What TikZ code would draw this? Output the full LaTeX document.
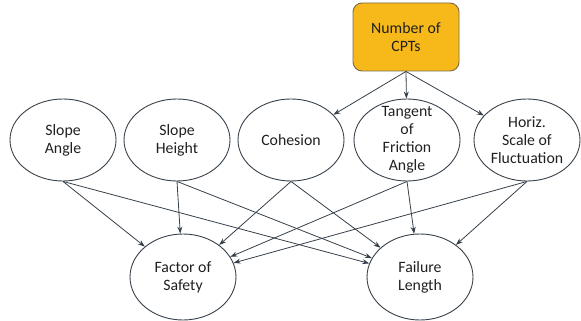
\documentclass[tikz,border=0pt]{standalone}
\usepackage{fontspec}
\setmainfont{Carlito}
\usetikzlibrary{shapes.geometric,arrows.meta}
\definecolor{boxfill}{HTML}{F7B81A}
\definecolor{boxline}{HTML}{7E6B45}
\definecolor{edgecol}{HTML}{36404A}
\definecolor{txt}{HTML}{202020}
\tikzset{
  var/.style={draw=edgecol, line width=0.9pt, ellipse, inner xsep=0pt, inner ysep=-16pt,
    minimum width=106pt, minimum height=82pt, align=center, text=txt,
    font=\fontsize{15.8}{18}\selectfont},
  outvar/.style={var, minimum height=86pt},
  cptbox/.style={draw=boxline, line width=0.9pt, fill=boxfill, rounded corners=9pt,
    minimum width=106pt, minimum height=68pt, align=center, text=txt,
    font=\fontsize{15.8}{18}\selectfont},
  link/.style={draw=edgecol, line width=0.8pt, -{Stealth[length=7pt,width=5pt]}}
}
\begin{document}
\begin{tikzpicture}[x=1pt,y=-1pt]
\useasboundingbox (0,0) rectangle (581,321);
\node[cptbox] (cpt) at (406,37) {Number of\\CPTs};
\node[var] (sa) at (63,140) {Slope\\Angle};
\node[var] (sh) at (177,140) {Slope\\Height};
\node[var] (co) at (291,140) {Cohesion};
\node[var] (tg) at (407,140) {Tangent\\of\\Friction\\Angle};
\node[var] (hz) at (527,140) {Horiz.\\Scale of\\Fluctuation};
\node[outvar] (fos) at (183,277) {Factor of\\Safety};
\node[outvar] (fl) at (420,277) {Failure\\Length};
\foreach \t in {co,tg,hz} \draw[link] (cpt.south) -- (\t);
\foreach \s in {sa,sh,co,tg,hz} {
  \draw[link] (\s.south) -- (fos);
  \draw[link] (\s.south) -- (fl);
}
\end{tikzpicture}
\end{document}
